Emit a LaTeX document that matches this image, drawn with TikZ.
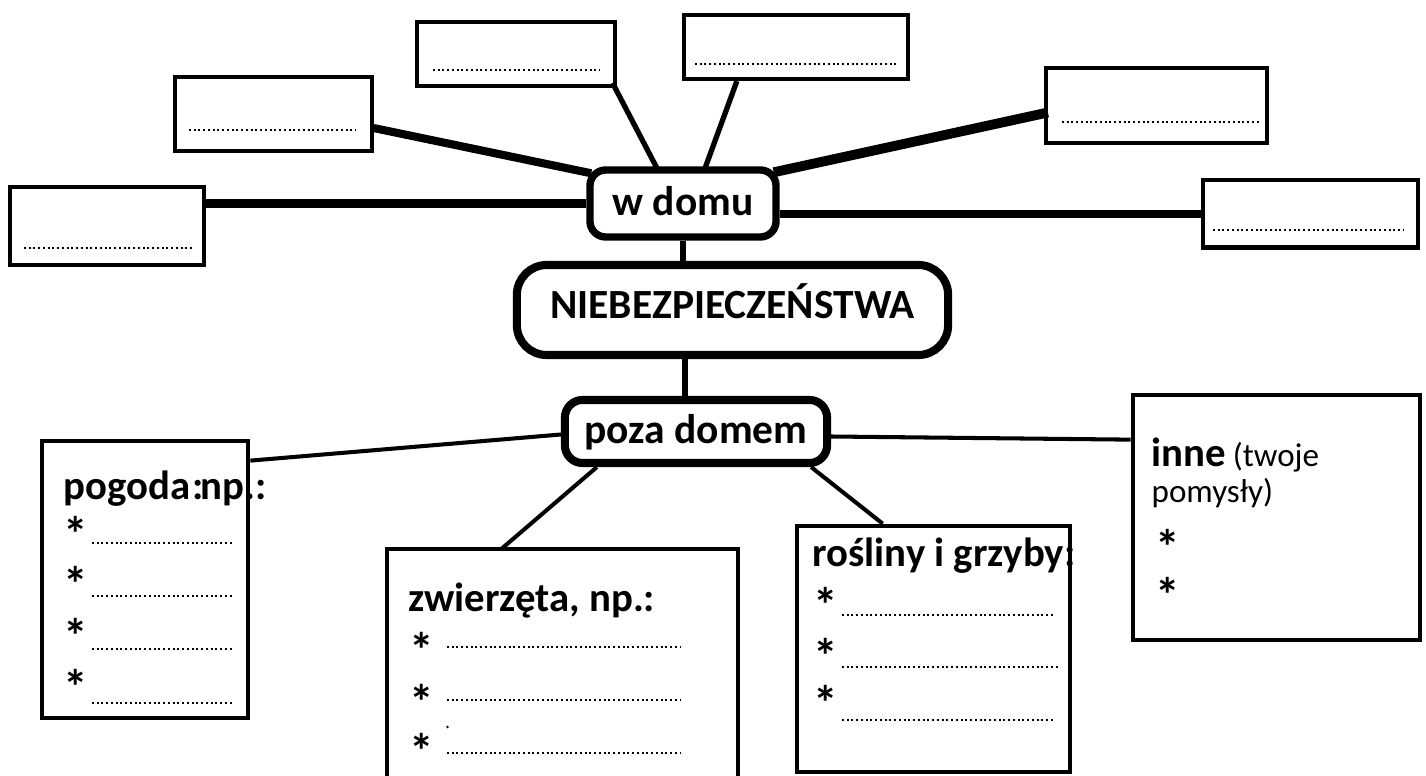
\documentclass[tikz,border=0pt]{standalone}
\usepackage{fontspec}
\setmainfont{Carlito}
\usetikzlibrary{calc}
\begin{document}
\begin{tikzpicture}[x=0.01cm,y=-0.01cm,
  topbox/.style={draw,line width=1.15pt,rectangle,inner sep=0pt},
  listbox/.style={draw,line width=1.3pt,rectangle,inner sep=0pt},
  hub/.style={draw,line width=2.1pt,rounded corners=4.5pt,inner sep=0pt,text height=1.4ex,text depth=0pt,font=\fontsize{11.8}{13}\selectfont\bfseries},
  lbl/.style={inner sep=0pt,anchor=base west,font=\fontsize{11.6}{13}\selectfont\bfseries},
  star/.style={inner sep=0pt,anchor=base west,text depth=0pt,font=\fontsize{14}{16}\selectfont\bfseries},
  note/.style={inner sep=0pt,anchor=base west,font=\fontsize{9.4}{11}\selectfont},
  dots/.style={line width=0.6pt,dash pattern=on 0.55pt off 0.8pt},
  heavylink/.style={line width=2.3pt},
  midlink/.style={line width=1.5pt},
  lightlink/.style={line width=1.15pt}]
\clip (0,0) rectangle (1426,776);
\fill[white] (0,0) rectangle (1426,776);

% upper answer boxes
\node[topbox,minimum width=1.94cm,minimum height=0.78cm] (b1) at (107,226) {};
\node[topbox,minimum width=1.96cm,minimum height=0.74cm] (b2) at (273.5,114) {};
\node[topbox,minimum width=1.97cm,minimum height=0.64cm] (b3) at (516,54) {};
\node[topbox,minimum width=2.24cm,minimum height=0.64cm] (b4) at (796,47) {};
\node[topbox,minimum width=2.21cm,minimum height=0.75cm] (b5) at (1156.5,105.5) {};
\node[topbox,minimum width=2.15cm,minimum height=0.67cm] (b6) at (1310.5,214) {};
\draw[dots] (24,248) -- (192,248);
\draw[dots] (189,130) -- (356,130);
\draw[dots] (433,70) -- (600,70);
\draw[dots] (695,64) -- (898,64);
\draw[dots] (1062,122) -- (1260,122);
\draw[dots] (1213,230) -- (1404,230);

% hubs
\node[hub,minimum width=1.86cm,minimum height=0.67cm] (wdomu) at (683,203.5) {w domu};
\node[hub,line width=2.3pt,rounded corners=8.5pt,text height=1ex,minimum width=4.31cm,minimum height=0.9cm] (niebez) at (732.5,310) {NIEBEZPIECZEŃSTWA};
\node[hub,line width=2.3pt,rounded corners=5pt,minimum width=2.62cm,minimum height=0.63cm] (poza) at (696,431.5) {poza domem};

% list boxes
\node[listbox,minimum width=2.06cm,minimum height=2.77cm] (pogoda) at (145,579.5) {};
\node[listbox,minimum width=3.51cm,minimum height=2.6cm] (zwierz) at (562.5,679) {};
\node[listbox,minimum width=2.73cm,minimum height=2.46cm] (rosl) at (933.5,649) {};
\node[listbox,minimum width=2.87cm,minimum height=2.45cm] (inne) at (1276.5,517.5) {};

% connectors (upper)
\draw[heavylink] (b1.east |- wdomu.west) -- (wdomu.west);
\draw[heavylink] ($(b2.east)+(0,14)$) -- ($(wdomu.north west)+(5,7)$);
\draw[midlink] ($(b3.south east)+(-4,-5)$) -- ($(wdomu.north)+(-26,2)$);
\draw[midlink] ($(b4.south west)+(55,0)$) -- ($(wdomu.north)+(22,2)$);
\draw[line width=2.8pt] ($(b5.west)+(4,7)$) -- ($(wdomu.north east)+(-6,6)$);
\draw[heavylink] (wdomu.east |- b6.west) -- (b6.west);
\draw[line width=1.7pt] (wdomu.south) -- (wdomu.south |- niebez.north);
\coordinate (pzt) at ($(poza.north)+(-11,0)$);
\draw[line width=1.8pt] (pzt) -- (pzt |- niebez.south);

% connectors (lower)
\draw[lightlink] ($(poza.west)+(0,3)$) -- ($(pogoda.north east)+(0,22)$);
\draw[lightlink] ($(poza.east)+(0,5)$) -- ($(inne.north west)+(0,47)$);
\draw[lightlink] ($(poza.south west)+(36,0)$) -- ($(zwierz.north west)+(116,3)$);
\draw[lightlink] ($(poza.south east)+(-20,0)$) -- ($(rosl.north west)+(88,0)$);

% pogoda
\node[lbl] (tpog) at (63,500) {pogoda};
\node[lbl] (tpogc) at (192,500) {:};
\node[lbl] (tpognp) at (200,500) {np.:};
\node[star] (sp1) at (63,551) {*};
\node[star] (sp2) at (63,602) {*};
\node[star] (sp3) at (63,654) {*};
\node[star] (sp4) at (63,705) {*};
\draw[dots] (92,543) -- (233,543);
\draw[dots] (92,596) -- (233,596);
\draw[dots] (92,649) -- (233,649);
\draw[dots] (92,703) -- (233,703);

% zwierzeta
\node[lbl] (tzw) at (408,612) {zwierzęta, np.:};
\node[star] (sz1) at (409,668) {*};
\node[star] (sz2) at (409,720) {*};
\node[star] (sz3) at (409,768) {*};
\draw[dots] (447,647) -- (680,647);
\draw[dots] (447,700) -- (680,700);
\draw[dots] (447,753) -- (680,753);
\fill (447.5,727) circle (1.3);

% rosliny
\node[lbl] (tro) at (812,567) {rośliny i grzyby:};
\node[star] (sr1) at (813,623) {*};
\node[star] (sr2) at (813,673) {*};
\node[star] (sr3) at (813,721) {*};
\draw[dots] (842,615) -- (1053,615);
\draw[dots] (842,667) -- (1058,667);
\draw[dots] (842,720) -- (1053,720);

% inne
\node[lbl] (tin) at (1151,467) {inne\,\fontsize{9.4}{11}\selectfont\mdseries(twoje};
\node[note] (tin2) at (1151,503) {pomysły)};
\node[star] (si1) at (1155,565) {*};
\node[star] (si2) at (1155,613) {*};
\end{tikzpicture}
\end{document}
